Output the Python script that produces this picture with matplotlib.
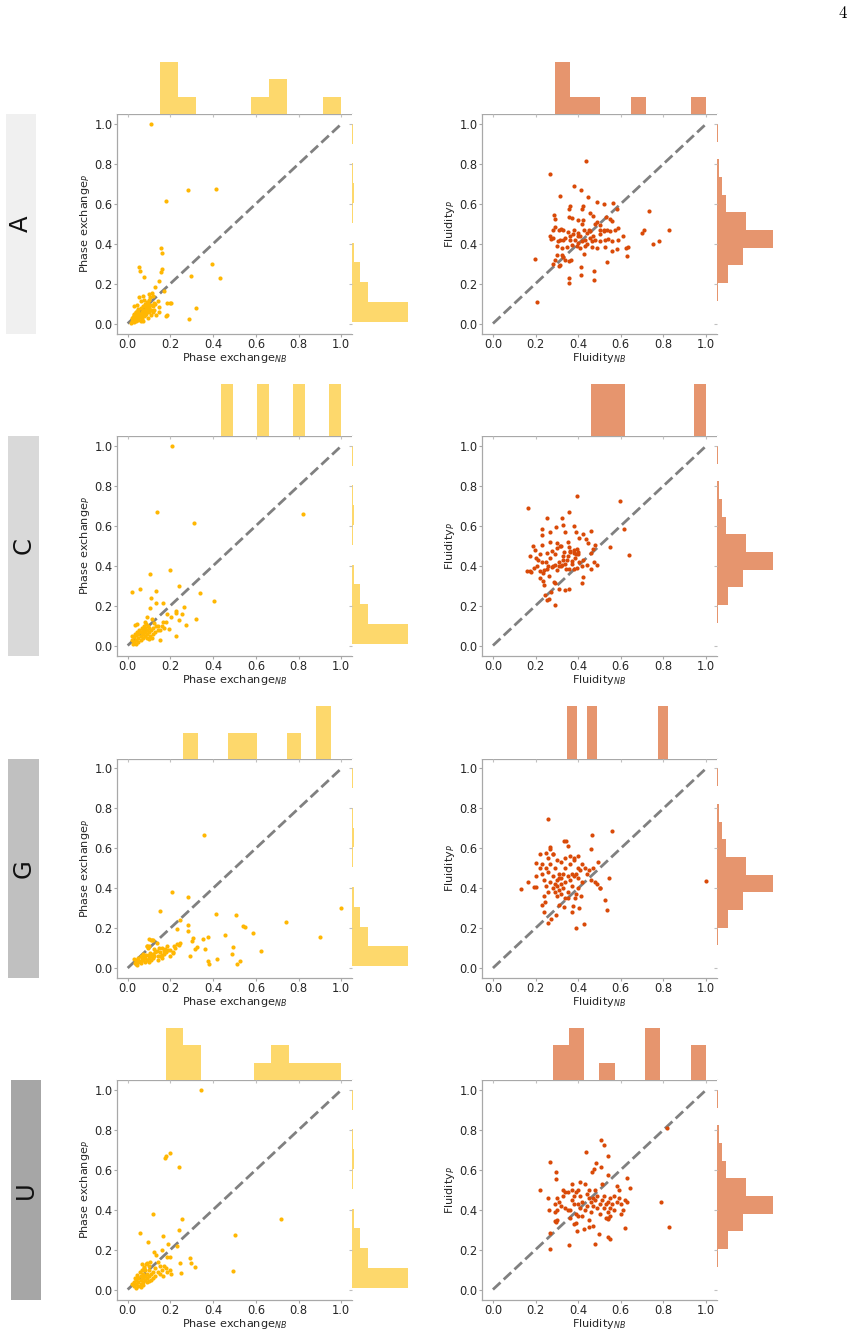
import numpy as np
import matplotlib
matplotlib.use('Agg')
import matplotlib.pyplot as plt
from matplotlib.patches import Rectangle

# ---------------- data ----------------
nucleotides = ['A', 'C', 'G', 'U']
box_colors = ['#f0f0f0', '#d9d9d9', '#c0c0c0', '#a6a6a6']

# Phase exchange (NB, P) per nucleotide
A_pe = [(0.109, 1.0), (0.283, 0.668), (0.414, 0.674), (0.18, 0.612), (0.156, 0.377), (0.162, 0.352),
        (0.051, 0.281), (0.057, 0.265), (0.075, 0.235), (0.16, 0.272), (0.157, 0.26), (0.146, 0.211),
        (0.128, 0.184), (0.17, 0.165), (0.296, 0.236), (0.397, 0.297), (0.433, 0.227), (0.321, 0.079),
        (0.286, 0.021), (0.184, 0.105), (0.196, 0.102), (0.202, 0.104), (0.181, 0.04), (0.185, 0.043),
        (0.098, 0.149), (0.114, 0.151), (0.07, 0.137), (0.103, 0.131), (0.055, 0.131), (0.117, 0.137),
        (0.078, 0.117), (0.062, 0.112), (0.094, 0.105), (0.125, 0.105), (0.14, 0.112), (0.109, 0.095),
        (0.086, 0.089), (0.044, 0.095), (0.031, 0.089), (0.047, 0.075), (0.07, 0.067), (0.101, 0.067),
        (0.125, 0.07), (0.148, 0.084), (0.148, 0.058), (0.132, 0.042), (0.109, 0.042), (0.094, 0.028),
        (0.062, 0.05), (0.039, 0.058), (0.028, 0.042), (0.023, 0.025), (0.047, 0.022), (0.07, 0.015),
        (0.016, 0.005), (0.059, 0.033), (0.081, 0.045), (0.117, 0.058), (0.09, 0.075), (0.05, 0.058),
        (0.03, 0.03), (0.035, 0.02), (0.04, 0.04), (0.045, 0.03), (0.05, 0.045), (0.055, 0.05),
        (0.06, 0.04), (0.065, 0.06), (0.07, 0.05), (0.075, 0.07), (0.08, 0.06), (0.085, 0.08),
        (0.09, 0.065), (0.095, 0.09), (0.1, 0.08), (0.03, 0.05), (0.04, 0.06), (0.05, 0.07),
        (0.06, 0.08), (0.07, 0.09), (0.08, 0.1), (0.02, 0.015), (0.025, 0.035), (0.035, 0.045),
        (0.045, 0.055), (0.055, 0.035), (0.065, 0.025), (0.075, 0.04), (0.085, 0.05), (0.1, 0.06),
        (0.11, 0.07), (0.12, 0.09), (0.13, 0.1), (0.04, 0.015), (0.05, 0.02), (0.06, 0.015),
        (0.02, 0.03), (0.03, 0.01), (0.1, 0.12), (0.09, 0.11)]

C_pe = [(0.206, 1.0), (0.138, 0.667), (0.311, 0.614), (0.819, 0.661), (0.198, 0.376), (0.105, 0.356),
        (0.238, 0.298), (0.339, 0.261), (0.134, 0.273), (0.022, 0.269), (0.058, 0.283), (0.402, 0.224),
        (0.109, 0.236), (0.131, 0.214), (0.167, 0.211), (0.263, 0.194), (0.103, 0.187), (0.225, 0.172),
        (0.227, 0.164), (0.186, 0.156), (0.203, 0.145), (0.252, 0.156), (0.242, 0.13), (0.322, 0.134),
        (0.272, 0.105), (0.192, 0.084), (0.225, 0.05), (0.15, 0.027), (0.116, 0.134), (0.122, 0.114),
        (0.092, 0.144), (0.08, 0.119), (0.163, 0.12), (0.033, 0.105), (0.044, 0.11), (0.134, 0.097),
        (0.144, 0.08), (0.02, 0.03), (0.03, 0.02), (0.03, 0.045), (0.04, 0.03), (0.04, 0.055),
        (0.05, 0.04), (0.05, 0.02), (0.06, 0.05), (0.06, 0.03), (0.07, 0.06), (0.07, 0.04),
        (0.08, 0.07), (0.08, 0.05), (0.09, 0.08), (0.09, 0.06), (0.1, 0.07), (0.1, 0.09),
        (0.11, 0.08), (0.12, 0.06), (0.12, 0.09), (0.13, 0.07), (0.14, 0.1), (0.15, 0.08),
        (0.16, 0.1), (0.025, 0.01), (0.035, 0.06), (0.045, 0.07), (0.055, 0.08), (0.065, 0.09),
        (0.075, 0.1), (0.085, 0.11), (0.095, 0.1), (0.105, 0.05), (0.115, 0.04), (0.02, 0.05),
        (0.05, 0.06), (0.06, 0.07), (0.07, 0.08), (0.08, 0.09), (0.09, 0.04), (0.1, 0.035),
        (0.04, 0.01), (0.17, 0.09), (0.18, 0.12)]

G_pe = [(0.359, 0.668), (0.209, 0.379), (0.28, 0.357), (0.153, 0.285), (0.247, 0.24), (0.413, 0.273),
        (0.508, 0.268), (1.0, 0.3), (0.739, 0.229), (0.539, 0.213), (0.547, 0.208), (0.455, 0.164),
        (0.588, 0.174), (0.375, 0.157), (0.353, 0.146), (0.902, 0.157), (0.283, 0.214), (0.281, 0.186),
        (0.231, 0.198), (0.306, 0.149), (0.302, 0.134), (0.325, 0.104), (0.317, 0.095), (0.361, 0.094),
        (0.492, 0.106), (0.622, 0.084), (0.489, 0.07), (0.294, 0.06), (0.416, 0.047), (0.375, 0.035),
        (0.381, 0.022), (0.525, 0.035), (0.511, 0.022), (0.247, 0.126), (0.239, 0.117), (0.219, 0.109),
        (0.2, 0.092), (0.211, 0.075), (0.184, 0.109), (0.177, 0.095), (0.169, 0.084), (0.161, 0.067),
        (0.153, 0.059), (0.138, 0.126), (0.114, 0.139), (0.102, 0.146), (0.091, 0.109), (0.138, 0.084),
        (0.122, 0.059), (0.109, 0.042), (0.098, 0.067), (0.075, 0.059), (0.067, 0.042), (0.052, 0.034),
        (0.036, 0.025), (0.044, 0.015), (0.09, 0.11), (0.1, 0.11), (0.11, 0.14), (0.12, 0.14),
        (0.095, 0.1), (0.07, 0.07), (0.06, 0.06), (0.05, 0.05), (0.04, 0.04), (0.03, 0.045),
        (0.04, 0.02), (0.05, 0.03), (0.06, 0.025), (0.07, 0.04), (0.08, 0.05), (0.09, 0.04),
        (0.1, 0.05), (0.11, 0.06), (0.12, 0.07), (0.13, 0.08), (0.14, 0.06), (0.15, 0.08),
        (0.16, 0.1), (0.17, 0.07), (0.18, 0.08), (0.19, 0.09), (0.2, 0.06), (0.21, 0.08),
        (0.22, 0.1), (0.23, 0.12), (0.08, 0.03), (0.1, 0.03), (0.12, 0.05), (0.14, 0.04),
        (0.16, 0.05), (0.065, 0.05), (0.085, 0.065), (0.105, 0.075), (0.125, 0.095), (0.145, 0.1)]

U_pe = [(0.345, 1.0), (0.2, 0.682), (0.178, 0.671), (0.177, 0.661), (0.238, 0.612), (0.719, 0.353),
        (0.255, 0.355), (0.117, 0.376), (0.059, 0.283), (0.095, 0.237), (0.166, 0.268), (0.239, 0.299),
        (0.502, 0.271), (0.492, 0.094), (0.291, 0.157), (0.298, 0.134), (0.313, 0.112), (0.244, 0.134),
        (0.25, 0.084), (0.188, 0.227), (0.184, 0.162), (0.2, 0.162), (0.231, 0.216), (0.161, 0.197),
        (0.125, 0.187), (0.131, 0.171), (0.106, 0.137), (0.153, 0.12), (0.169, 0.12), (0.203, 0.079),
        (0.184, 0.087), (0.164, 0.07), (0.091, 0.132), (0.067, 0.129), (0.075, 0.112), (0.059, 0.087),
        (0.02, 0.03), (0.03, 0.04), (0.03, 0.02), (0.04, 0.05), (0.04, 0.03), (0.05, 0.06),
        (0.05, 0.04), (0.05, 0.02), (0.06, 0.07), (0.06, 0.05), (0.06, 0.03), (0.07, 0.06),
        (0.07, 0.04), (0.07, 0.08), (0.08, 0.05), (0.08, 0.07), (0.08, 0.1), (0.09, 0.06),
        (0.09, 0.08), (0.1, 0.07), (0.1, 0.1), (0.11, 0.08), (0.11, 0.05), (0.12, 0.09),
        (0.12, 0.06), (0.13, 0.07), (0.14, 0.09), (0.15, 0.08), (0.16, 0.1), (0.04, 0.01),
        (0.06, 0.015), (0.07, 0.025), (0.09, 0.04), (0.1, 0.045), (0.035, 0.06), (0.045, 0.075),
        (0.065, 0.1), (0.075, 0.11), (0.085, 0.13), (0.1, 0.12), (0.13, 0.11), (0.14, 0.14),
        (0.18, 0.11), (0.2, 0.1)]

# Fluidity (NB, P) per nucleotide
A_fl = [(0.437, 0.813), (0.269, 0.751), (0.378, 0.69), (0.411, 0.668), (0.316, 0.638), (0.447, 0.636),
        (0.486, 0.611), (0.522, 0.598), (0.562, 0.606), (0.362, 0.589), (0.355, 0.572), (0.422, 0.589),
        (0.417, 0.572), (0.584, 0.574), (0.73, 0.562), (0.287, 0.545), (0.29, 0.522), (0.359, 0.535),
        (0.373, 0.529), (0.397, 0.517), (0.422, 0.519), (0.456, 0.556), (0.469, 0.539), (0.531, 0.535),
        (0.547, 0.522), (0.558, 0.512), (0.49, 0.508), (0.481, 0.497), (0.503, 0.495), (0.289, 0.485),
        (0.284, 0.471), (0.308, 0.468), (0.319, 0.475), (0.331, 0.471), (0.351, 0.458), (0.375, 0.45),
        (0.397, 0.455), (0.409, 0.438), (0.425, 0.471), (0.44, 0.455), (0.456, 0.463), (0.503, 0.471),
        (0.519, 0.463), (0.534, 0.471), (0.55, 0.463), (0.573, 0.471), (0.589, 0.48), (0.266, 0.441),
        (0.272, 0.424), (0.284, 0.429), (0.303, 0.413), (0.316, 0.421), (0.339, 0.429), (0.362, 0.421),
        (0.386, 0.421), (0.401, 0.404), (0.417, 0.413), (0.433, 0.421), (0.456, 0.429), (0.464, 0.413),
        (0.48, 0.421), (0.503, 0.413), (0.526, 0.421), (0.542, 0.424), (0.558, 0.413), (0.586, 0.421),
        (0.609, 0.441), (0.698, 0.455), (0.711, 0.468), (0.826, 0.471), (0.3, 0.387), (0.323, 0.379),
        (0.347, 0.384), (0.37, 0.396), (0.394, 0.391), (0.409, 0.379), (0.433, 0.391), (0.464, 0.384),
        (0.49, 0.377), (0.526, 0.384), (0.558, 0.362), (0.581, 0.374), (0.625, 0.379), (0.633, 0.384),
        (0.75, 0.401), (0.78, 0.416), (0.197, 0.323), (0.3, 0.343), (0.323, 0.345), (0.292, 0.317),
        (0.284, 0.3), (0.331, 0.333), (0.339, 0.32), (0.359, 0.311), (0.366, 0.32), (0.428, 0.349),
        (0.631, 0.338), (0.534, 0.308), (0.308, 0.29), (0.316, 0.295), (0.414, 0.281), (0.476, 0.264),
        (0.359, 0.227), (0.358, 0.202), (0.412, 0.244), (0.475, 0.219), (0.206, 0.11), (0.4, 0.44),
        (0.45, 0.47), (0.38, 0.47), (0.42, 0.5), (0.47, 0.44), (0.5, 0.45), (0.36, 0.44),
        (0.33, 0.42), (0.44, 0.4), (0.52, 0.47)]

C_fl = [(0.164, 0.689), (0.395, 0.747), (0.598, 0.724), (0.616, 0.585), (0.638, 0.453), (0.55, 0.493),
        (0.255, 0.637), (0.322, 0.637), (0.358, 0.669), (0.297, 0.595), (0.327, 0.605), (0.231, 0.585),
        (0.231, 0.554), (0.266, 0.569), (0.388, 0.569), (0.422, 0.559), (0.406, 0.54), (0.458, 0.572),
        (0.438, 0.532), (0.448, 0.515), (0.477, 0.505), (0.469, 0.482), (0.459, 0.462), (0.186, 0.5),
        (0.195, 0.477), (0.175, 0.448), (0.211, 0.431), (0.206, 0.398), (0.23, 0.421), (0.175, 0.373),
        (0.231, 0.503), (0.253, 0.465), (0.277, 0.475), (0.3, 0.515), (0.316, 0.498), (0.334, 0.468),
        (0.328, 0.448), (0.355, 0.495), (0.363, 0.473), (0.378, 0.465), (0.394, 0.482), (0.397, 0.457),
        (0.347, 0.431), (0.37, 0.423), (0.386, 0.44), (0.406, 0.418), (0.422, 0.428), (0.289, 0.406),
        (0.277, 0.393), (0.308, 0.398), (0.323, 0.406), (0.342, 0.385), (0.358, 0.381), (0.378, 0.381),
        (0.394, 0.39), (0.417, 0.398), (0.441, 0.406), (0.459, 0.385), (0.472, 0.418), (0.488, 0.406),
        (0.253, 0.381), (0.237, 0.361), (0.261, 0.348), (0.222, 0.339), (0.233, 0.323), (0.241, 0.301),
        (0.287, 0.318), (0.291, 0.313), (0.311, 0.281), (0.336, 0.278), (0.358, 0.281), (0.422, 0.344),
        (0.416, 0.313), (0.245, 0.251), (0.272, 0.268), (0.253, 0.226), (0.264, 0.231), (0.292, 0.204),
        (0.194, 0.39), (0.222, 0.373), (0.159, 0.373), (0.177, 0.368), (0.336, 0.569), (0.378, 0.599),
        (0.25, 0.42), (0.27, 0.44), (0.29, 0.46), (0.31, 0.42), (0.33, 0.43), (0.35, 0.45),
        (0.37, 0.41), (0.39, 0.46), (0.28, 0.4), (0.3, 0.38), (0.32, 0.4), (0.34, 0.41),
        (0.36, 0.47), (0.38, 0.48), (0.4, 0.47), (0.24, 0.38), (0.26, 0.4), (0.22, 0.46),
        (0.2, 0.44), (0.3, 0.49), (0.32, 0.5), (0.35, 0.52), (0.27, 0.52)]

G_fl = [(0.257, 0.745), (0.464, 0.668), (0.561, 0.688), (0.334, 0.638), (0.341, 0.638), (0.353, 0.611),
        (0.459, 0.596), (0.25, 0.575), (0.219, 0.571), (0.269, 0.598), (0.266, 0.606), (0.284, 0.571),
        (0.202, 0.524), (0.23, 0.523), (1.0, 0.438), (0.163, 0.432), (0.131, 0.394), (0.194, 0.405),
        (0.203, 0.405), (0.494, 0.529), (0.503, 0.399), (0.545, 0.449), (0.528, 0.34), (0.534, 0.293),
        (0.388, 0.201), (0.428, 0.221), (0.256, 0.226), (0.273, 0.246), (0.295, 0.265), (0.238, 0.28),
        (0.231, 0.315), (0.244, 0.332), (0.333, 0.308), (0.375, 0.31), (0.372, 0.283), (0.406, 0.302),
        (0.309, 0.318), (0.383, 0.352), (0.414, 0.363), (0.336, 0.352), (0.23, 0.47), (0.24, 0.44),
        (0.25, 0.41), (0.26, 0.48), (0.27, 0.43), (0.28, 0.46), (0.28, 0.4), (0.29, 0.5),
        (0.29, 0.38), (0.3, 0.44), (0.3, 0.41), (0.31, 0.47), (0.31, 0.39), (0.32, 0.45),
        (0.32, 0.42), (0.33, 0.4), (0.33, 0.47), (0.34, 0.43), (0.34, 0.5), (0.35, 0.46),
        (0.35, 0.38), (0.36, 0.44), (0.36, 0.52), (0.37, 0.47), (0.37, 0.41), (0.38, 0.46),
        (0.38, 0.54), (0.39, 0.47), (0.39, 0.37), (0.4, 0.45), (0.4, 0.5), (0.41, 0.49),
        (0.42, 0.52), (0.42, 0.43), (0.43, 0.5), (0.44, 0.47), (0.45, 0.49), (0.46, 0.44),
        (0.47, 0.5), (0.48, 0.43), (0.49, 0.42), (0.5, 0.4), (0.26, 0.55), (0.28, 0.57),
        (0.3, 0.54), (0.32, 0.53), (0.34, 0.55), (0.36, 0.56), (0.38, 0.55), (0.4, 0.56),
        (0.25, 0.5), (0.27, 0.52), (0.22, 0.5), (0.2, 0.46), (0.24, 0.36), (0.26, 0.38),
        (0.3, 0.36), (0.32, 0.37), (0.35, 0.35), (0.4, 0.4), (0.29, 0.42), (0.31, 0.45)]

U_fl = [(0.819, 0.811), (0.505, 0.747), (0.523, 0.722), (0.436, 0.689), (0.539, 0.667), (0.27, 0.637),
        (0.294, 0.589), (0.484, 0.635), (0.509, 0.615), (0.472, 0.604), (0.464, 0.589), (0.298, 0.552),
        (0.539, 0.574), (0.628, 0.56), (0.644, 0.51), (0.222, 0.5), (0.258, 0.46), (0.263, 0.4),
        (0.789, 0.438), (0.828, 0.313), (0.266, 0.283), (0.27, 0.204), (0.359, 0.221), (0.477, 0.226),
        (0.498, 0.276), (0.547, 0.251), (0.539, 0.263), (0.619, 0.309), (0.389, 0.333), (0.394, 0.294),
        (0.428, 0.301), (0.452, 0.314), (0.539, 0.36), (0.539, 0.351), (0.292, 0.344), (0.295, 0.338),
        (0.3, 0.46), (0.31, 0.44), (0.32, 0.42), (0.33, 0.47), (0.34, 0.41), (0.35, 0.49),
        (0.36, 0.4), (0.37, 0.45), (0.37, 0.53), (0.38, 0.43), (0.39, 0.49), (0.39, 0.38),
        (0.4, 0.43), (0.4, 0.5), (0.41, 0.41), (0.41, 0.47), (0.42, 0.44), (0.42, 0.37),
        (0.43, 0.53), (0.43, 0.4), (0.44, 0.48), (0.44, 0.42), (0.45, 0.46), (0.45, 0.5),
        (0.46, 0.44), (0.46, 0.39), (0.47, 0.46), (0.47, 0.42), (0.48, 0.45), (0.48, 0.5),
        (0.49, 0.41), (0.49, 0.47), (0.5, 0.43), (0.5, 0.38), (0.51, 0.45), (0.51, 0.53),
        (0.52, 0.41), (0.52, 0.47), (0.53, 0.43), (0.53, 0.36), (0.54, 0.44), (0.54, 0.39),
        (0.55, 0.41), (0.55, 0.46), (0.56, 0.43), (0.57, 0.47), (0.57, 0.4), (0.58, 0.44),
        (0.59, 0.46), (0.6, 0.38), (0.6, 0.43), (0.61, 0.4), (0.62, 0.45), (0.63, 0.44),
        (0.35, 0.4), (0.36, 0.36), (0.38, 0.33), (0.4, 0.37), (0.29, 0.39), (0.3, 0.4),
        (0.33, 0.5), (0.37, 0.5), (0.41, 0.54), (0.38, 0.47), (0.45, 0.35), (0.47, 0.32),
        (0.58, 0.52), (0.59, 0.5), (0.55, 0.37), (0.34, 0.49), (0.3, 0.35), (0.29, 0.43)]

# top marginal histograms: (range lo, range hi) and counts in 10 bins
pe_top_ranges = {'A': (0.15, 1.0), 'C': (0.435, 1.0), 'G': (0.26, 0.952), 'U': (0.179, 1.0)}
pe_top_counts = {'A': [3, 1, 0, 0, 0, 1, 2, 0, 0, 1],
                 'C': [1, 0, 0, 1, 0, 0, 1, 0, 0, 1],
                 'G': [1, 0, 0, 1, 1, 0, 0, 1, 0, 2],
                 'U': [3, 2, 0, 0, 0, 1, 2, 1, 1, 1]}
fl_top_ranges = {'A': (0.292, 1.0), 'C': (0.458, 1.0), 'G': (0.347, 0.823), 'U': (0.284, 1.0)}
fl_top_counts = {'A': [3, 1, 1, 0, 0, 1, 0, 0, 0, 1],
                 'C': [1, 1, 1, 0, 0, 0, 0, 0, 0, 1],
                 'G': [1, 0, 1, 0, 0, 0, 0, 0, 0, 1],
                 'U': [2, 3, 0, 1, 0, 0, 3, 0, 0, 2]}

# right marginal histograms (same in every row)
pe_right_range = (0.01, 1.0)
pe_right_counts = [96, 28, 14, 4, 0, 1, 3, 1, 0, 1]
fl_right_range = (0.114, 1.0)
fl_right_counts = [1, 11, 26, 55, 29, 9, 5, 2, 0, 1]

pe_data = {'A': A_pe, 'C': C_pe, 'G': G_pe, 'U': U_pe}
fl_data = {'A': A_fl, 'C': C_fl, 'G': G_fl, 'U': U_fl}

# ---------------- styling ----------------
W, H = 856, 1334
fig = plt.figure(figsize=(W / 100, H / 100), dpi=100)

pe_dot, pe_hist = '#FFB703', '#FDD86C'
fl_dot, fl_hist = '#D94A08', '#E6956E'
tick_color = '#262626'
spine_color = '#a8a8a8'

row_tops = [114, 436, 758.5, 1080]
main_h = 219.5
top_h = 52
right_w = 56
box_x = [(5.7, 36), (8.3, 39), (8.3, 39), (11, 41.3)]


def px_axes(l, t, r, b):
    return fig.add_axes([l / W, 1 - b / H, (r - l) / W, (b - t) / H])


def panel(l, r, t, pts, trange, tcounts, rrange, rcounts, dot, hcol, name):
    b = t + main_h
    ax = px_axes(l, t, r, b)
    arr = np.array(pts)
    ax.plot([0, 1], [0, 1], ls='--', color='#808080', lw=2, zorder=1)
    ax.scatter(arr[:, 0], arr[:, 1], s=9, color=dot, linewidths=0, zorder=2)
    ax.set_xlim(-0.05, 1.05)
    ax.set_ylim(-0.05, 1.05)
    ticks = [0, 0.2, 0.4, 0.6, 0.8, 1.0]
    ax.set_xticks(ticks)
    ax.set_yticks(ticks)
    ax.set_xticklabels(['0.0', '0.2', '0.4', '0.6', '0.8', '1.0'])
    ax.set_yticklabels(['0.0', '0.2', '0.4', '0.6', '0.8', '1.0'])
    ax.tick_params(labelsize=8.3, colors=spine_color, labelcolor=tick_color, length=2, pad=1.2, width=0.8)
    for s in ['left', 'bottom', 'top']:
        ax.spines[s].set_color(spine_color)
        ax.spines[s].set_linewidth(0.9)
    ax.spines['right'].set_visible(False)
    ax.set_xlabel(name + r'$_{NB}$', fontsize=8.1, labelpad=0, color=tick_color)
    ax.set_ylabel(name + r'$_{P}$', fontsize=8.1, labelpad=2, color=tick_color)

    # top marginal
    axt = px_axes(l, t - top_h, r, t)
    edges = np.linspace(trange[0], trange[1], len(tcounts) + 1)
    axt.bar(edges[:-1], tcounts, width=np.diff(edges), align='edge', color=hcol, linewidth=0)
    axt.set_xlim(-0.05, 1.05)
    axt.set_ylim(0, max(tcounts))
    for s in axt.spines.values():
        s.set_visible(False)
    axt.set_xticks(ticks)
    axt.set_yticks([])
    axt.tick_params(axis='x', labelbottom=False, length=2, color='#c0c0c0', width=0.8)

    # right marginal
    axr = px_axes(r, t, r + right_w, b)
    redges = np.linspace(rrange[0], rrange[1], len(rcounts) + 1)
    axr.barh(redges[:-1], rcounts, height=np.diff(redges), align='edge', color=hcol, linewidth=0)
    axr.set_ylim(-0.05, 1.05)
    axr.set_xlim(0, max(rcounts))
    for s in axr.spines.values():
        s.set_visible(False)
    axr.set_yticks(ticks)
    axr.set_xticks([])
    axr.tick_params(axis='y', labelleft=False, length=2, color='#c0c0c0', width=0.8)


for i, nt in enumerate(nucleotides):
    t = row_tops[i]
    panel(117, 352, t, pe_data[nt], pe_top_ranges[nt], pe_top_counts[nt],
          pe_right_range, pe_right_counts, pe_dot, pe_hist, 'Phase exchange')
    panel(482.3, 716.7, t, fl_data[nt], fl_top_ranges[nt], fl_top_counts[nt],
          fl_right_range, fl_right_counts, fl_dot, fl_hist, 'Fluidity')
    x0, x1 = box_x[i]
    fig.patches.append(Rectangle((x0 / W, 1 - (t + main_h) / H), (x1 - x0) / W, main_h / H,
                                 transform=fig.transFigure, facecolor=box_colors[i],
                                 edgecolor='none', zorder=0))
    fig.text((x0 + x1) / 2 / W, 1 - (t + main_h / 2) / H, nt, rotation=90,
             fontsize=17.5, ha='center', va='center', color='#111111')

fig.text(843 / W, 1 - 13 / H, r'$4$', fontsize=12, ha='center', va='center', math_fontfamily='cm')

fig.savefig('out.png', dpi=100)
